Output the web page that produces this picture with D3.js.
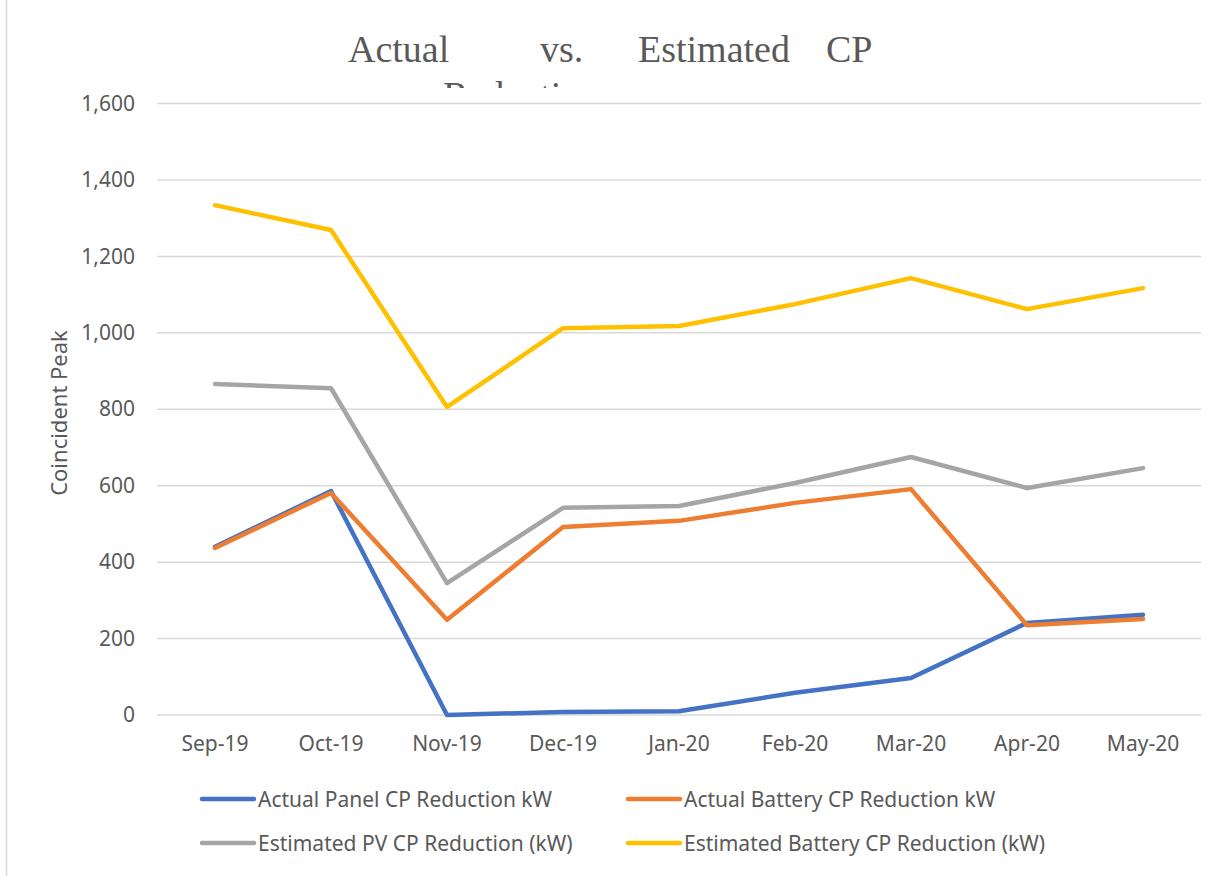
<!DOCTYPE html>
<html><head><meta charset="utf-8">
<script src="https://cdn.jsdelivr.net/npm/d3@7"></script>
<style>body{margin:0;background:#fff}svg{display:block}</style>
</head><body>
<script>
const categories = ["Sep-19","Oct-19","Nov-19","Dec-19","Jan-20","Feb-20","Mar-20","Apr-20","May-20"];
const actualPanel = [440, 586, 0, 8, 10, 58, 97, 241, 262];
const actualBattery = [437, 581, 249, 492, 508, 555, 591, 235, 251];
const estimatedPV = [866, 855, 345, 542, 547, 607, 675, 594, 646];
const estimatedBattery = [1334, 1269, 806, 1012, 1018, 1075, 1143, 1062, 1117];
const yTicks = [0, 200, 400, 600, 800, 1000, 1200, 1400, 1600];
const seriesNames = ["Actual Panel CP Reduction kW","Actual Battery CP Reduction kW","Estimated PV CP Reduction (kW)","Estimated Battery CP Reduction (kW)"];
const titleWords = ["Actual","vs.","Estimated","CP"];

const W = 1221, H = 876;
const svg = d3.select("body").append("svg").attr("width", W).attr("height", H);
const font = "'Noto Sans', sans-serif";
const txt = "#595959";

// chart border (left edge visible)
svg.append("line").attr("x1",6.5).attr("x2",6.5).attr("y1",0).attr("y2",H).attr("stroke","#d9d9d9").attr("stroke-width",1.5);

const x = d3.scaleBand().domain(categories).range([157, 1201]);
const y = d3.scaleLinear().domain([0, 1600]).range([715, 103.5]);

// gridlines
svg.append("g").selectAll("line").data(yTicks).join("line")
  .attr("x1", 157).attr("x2", 1201)
  .attr("y1", d => y(d)).attr("y2", d => y(d))
  .attr("stroke", "#d9d9d9").attr("stroke-width", 1.5);

// y axis
const yAxis = svg.append("g").attr("transform","translate(157,0)")
  .call(d3.axisLeft(y).tickValues(yTicks).tickFormat(d3.format(",")).tickSize(0).tickPadding(22));
yAxis.select(".domain").remove();
yAxis.selectAll("text").attr("font-family", font).attr("font-size", 21).attr("fill", txt);

// x axis
const xAxis = svg.append("g").attr("transform","translate(0,715)")
  .call(d3.axisBottom(x).tickSize(0).tickPadding(21));
xAxis.select(".domain").remove();
xAxis.selectAll("text").attr("font-family", font).attr("font-size", 21).attr("fill", txt);

// y axis title
svg.append("text").attr("transform","translate(67,413) rotate(-90)")
  .attr("text-anchor","middle").attr("font-family", font).attr("font-size", 22).attr("fill", txt)
  .text("Coincident Peak");

// title
const titleX = [348, 540, 638, 826];
svg.append("g").selectAll("text").data(titleWords).join("text")
  .attr("x", (d,i) => titleX[i]).attr("y", 62)
  .attr("font-family", "'Liberation Serif', serif").attr("font-size", 38).attr("fill", txt)
  .text(d => d);
svg.append("clipPath").attr("id","tclip").append("rect").attr("x",0).attr("y",0).attr("width",W).attr("height",88);
svg.append("text").attr("x", 443).attr("y", 108).attr("clip-path","url(#tclip)")
  .attr("font-family", "'Liberation Serif', serif").attr("font-size", 38).attr("fill", txt)
  .text("Reduction");

const colors = ["#4472C4","#ED7D31","#A5A5A5","#FFC000"];
const data = [actualPanel, actualBattery, estimatedPV, estimatedBattery];
const line = d3.line().x((d,i) => x(categories[i]) + x.bandwidth()/2).y(d => y(d));
svg.append("g").selectAll("path").data(data).join("path")
  .attr("d", line).attr("fill","none")
  .attr("stroke", (d,i) => colors[i]).attr("stroke-width", 4.5)
  .attr("stroke-linejoin","round").attr("stroke-linecap","round");

// legend
const legPos = [[200,799],[626,799],[200,843],[626,843]];
const leg = svg.append("g").selectAll("g").data(seriesNames).join("g")
  .attr("transform", (d,i) => `translate(${legPos[i][0]},${legPos[i][1]})`);
leg.append("line").attr("x1",2).attr("x2",54).attr("y1",0).attr("y2",0)
  .attr("stroke",(d,i)=>colors[i]).attr("stroke-width",4.5).attr("stroke-linecap","round");
leg.append("text").attr("x",58).attr("y",7.5).attr("font-family",font).attr("font-size",21).attr("fill",txt)
  .text(d=>d);
</script>
</body></html>
